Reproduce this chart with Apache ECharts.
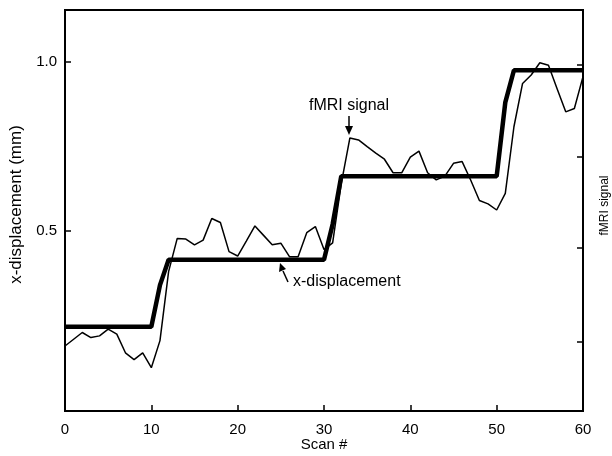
<!DOCTYPE html>
<html>
<head>
<meta charset="utf-8">
<script src="https://cdn.jsdelivr.net/npm/echarts@6/dist/echarts.min.js"></script>
<style>html,body{margin:0;padding:0;background:#fff}#c{width:612px;height:456px}</style>
</head>
<body>
<div id="c"></div>
<script>
// Scan numbers
const scans = [];
for (let i = 0; i <= 60; i++) scans.push(i);
// x-displacement (mm), thick line
const xDisplacement = [
  0.217,0.217,0.217,0.217,0.217,0.217,0.217,0.217,0.217,0.217,0.217,
  0.34,0.415,0.415,0.415,0.415,0.415,0.415,0.415,0.415,0.415,
  0.415,0.415,0.415,0.415,0.415,0.415,0.415,0.415,0.415,0.415,
  0.52,0.662,0.662,0.662,0.662,0.662,0.662,0.662,0.662,0.662,
  0.662,0.662,0.662,0.662,0.662,0.662,0.662,0.662,0.662,0.662,
  0.88,0.975,0.975,0.975,0.975,0.975,0.975,0.975,0.975,0.975
];
// fMRI signal (scaled to left axis), thin line
const fmriSignal = [
  0.16,0.18,0.20,0.185,0.19,0.21,0.195,0.14,0.12,0.14,0.096,
  0.176,0.38,0.478,0.476,0.459,0.473,0.537,0.525,0.439,0.426,
  0.47,0.515,0.487,0.459,0.464,0.424,0.424,0.495,0.513,0.445,
  0.465,0.64,0.775,0.769,0.749,0.73,0.712,0.672,0.672,0.718,
  0.736,0.672,0.651,0.662,0.70,0.705,0.65,0.59,0.58,0.562,
  0.611,0.808,0.936,0.961,0.997,0.99,0.92,0.852,0.862,0.956
];
const xTicks = [0,10,20,30,40,50,60];
const yTicks = [0.5,1.0];
const rightTicks = [0.172,0.449,0.718,0.990];

const FONT = 'Liberation Sans, Arial, sans-serif';
const chart = echarts.init(document.getElementById('c'), null, {renderer:'canvas'});
chart.setOption({
  animation:false,
  backgroundColor:'#fff',
  grid:{left:65,right:29,top:10,bottom:45,outerBoundsMode:'none',containLabel:false,
        show:true,borderColor:'#000',borderWidth:2,backgroundColor:'transparent'},
  xAxis:{
    type:'value',min:0,max:60,
    name:'Scan #',nameLocation:'middle',nameGap:26,nameMoveOverlap:false,
    nameTextStyle:{fontFamily:FONT,fontSize:15,color:'#000'},
    axisLine:{onZero:false,lineStyle:{color:'#000',width:2}},
    axisTick:{inside:true,length:6,lineStyle:{color:'#000',width:1.5},customValues:xTicks},
    axisLabel:{fontFamily:FONT,fontSize:15,color:'#000',margin:11,customValues:xTicks},
    splitLine:{show:false}
  },
  yAxis:[{
    type:'value',min:-0.032,max:1.153,
    name:'x-displacement (mm)',nameLocation:'middle',nameGap:38,
    nameTextStyle:{fontFamily:FONT,fontSize:17,color:'#000',padding:[0,0,0,12]},
    axisLine:{onZero:false,lineStyle:{color:'#000',width:2}},
    axisTick:{inside:true,length:6,lineStyle:{color:'#000',width:1.5},customValues:yTicks},
    axisLabel:{fontFamily:FONT,fontSize:15,color:'#000',margin:8,customValues:yTicks,formatter:v=>v.toFixed(1)},
    splitLine:{show:false}
  },{
    type:'value',min:-0.032,max:1.153,position:'right',
    name:'fMRI signal',nameLocation:'middle',nameGap:16,nameRotate:90,
    nameTextStyle:{fontFamily:FONT,fontSize:12,color:'#000',padding:[0,0,0,10]},
    axisLine:{show:true,onZero:false,lineStyle:{color:'#000',width:2}},
    axisTick:{show:true,inside:true,length:6,lineStyle:{color:'#000',width:1.5},customValues:rightTicks},
    axisLabel:{show:false},
    splitLine:{show:false}
  }],
  graphic:[
    {type:'text',left:309,top:98,style:{text:'fMRI signal',font:'16px '+FONT,fill:'#000'}},
    {type:'line',shape:{x1:349,y1:116,x2:349,y2:128},style:{stroke:'#000',lineWidth:1.5}},
    {type:'polygon',shape:{points:[[345,126],[353,126],[349,135]]},style:{fill:'#000'}},
    {type:'text',left:293,top:274,style:{text:'x-displacement',font:'16px '+FONT,fill:'#000'}},
    {type:'line',shape:{x1:288,y1:282,x2:283,y2:271},style:{stroke:'#000',lineWidth:1.5}},
    {type:'polygon',shape:{points:[[279,272],[286,269],[280,263]]},style:{fill:'#000'}}
  ],
  series:[
    {type:'line',name:'x-displacement',data:scans.map((s,i)=>[s,xDisplacement[i]]),
     showSymbol:false,lineStyle:{color:'#000',width:4.5},z:3},
    {type:'line',name:'fMRI signal',data:scans.map((s,i)=>[s,fmriSignal[i]]),
     showSymbol:false,lineStyle:{color:'#000',width:1.5},z:2}
  ]
});
</script>
</body>
</html>
